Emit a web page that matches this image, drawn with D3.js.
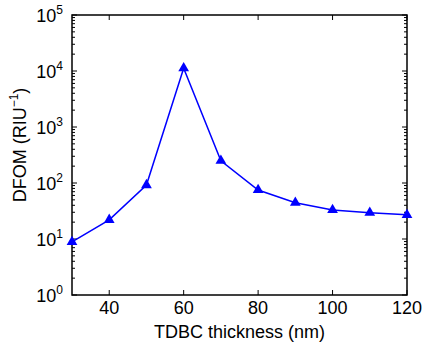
<!doctype html>
<html>
<head>
<meta charset="utf-8">
<script src="https://cdn.jsdelivr.net/npm/d3@7"></script>
<style>
  body { margin: 0; background: #fff; }
  text { font-family: "Liberation Sans", Arial, sans-serif; fill: #000; }
</style>
</head>
<body>
<script>
  var thickness = [30, 40, 50, 60, 70, 80, 90, 100, 110, 120];
  var dfom = [8.9, 22, 92, 11200, 250, 75, 44.5, 33, 29.5, 27];
  var xTicks = [40, 60, 80, 100, 120];
  var yExps = [0, 1, 2, 3, 4, 5];

  var width = 422, height = 350;
  var pLeft = 72, pRight = 407, pTop = 15, pBottom = 295;

  var svg = d3.select('body').append('svg')
      .attr('width', width)
      .attr('height', height);

  var x = d3.scaleLinear().domain([30, 120]).range([pLeft, pRight]);
  var y = d3.scaleLog().domain([1, 1e5]).range([pBottom, pTop]);

  // minor log ticks
  var minor = [];
  for (var e = 0; e < 5; e++) {
    for (var m = 2; m < 10; m++) minor.push(m * Math.pow(10, e));
  }

  var ticks = svg.append('g').attr('stroke', '#000').attr('stroke-width', 1);
  minor.forEach(function (v) {
    ticks.append('line').attr('x1', pLeft).attr('x2', pLeft + 3).attr('y1', y(v)).attr('y2', y(v));
    ticks.append('line').attr('x1', pRight).attr('x2', pRight - 3).attr('y1', y(v)).attr('y2', y(v));
  });
  yExps.forEach(function (p) {
    var v = Math.pow(10, p);
    ticks.append('line').attr('x1', pLeft).attr('x2', pLeft + 5).attr('y1', y(v)).attr('y2', y(v));
    ticks.append('line').attr('x1', pRight).attr('x2', pRight - 5).attr('y1', y(v)).attr('y2', y(v));
  });
  xTicks.forEach(function (t) {
    ticks.append('line').attr('x1', x(t)).attr('x2', x(t)).attr('y1', pBottom).attr('y2', pBottom - 5);
    ticks.append('line').attr('x1', x(t)).attr('x2', x(t)).attr('y1', pTop).attr('y2', pTop + 5);
  });

  svg.append('rect')
      .attr('x', pLeft).attr('y', pTop)
      .attr('width', pRight - pLeft).attr('height', pBottom - pTop)
      .attr('fill', 'none').attr('stroke', '#000').attr('stroke-width', 1.5);

  // tick labels
  svg.append('g').selectAll('text').data(xTicks).enter().append('text')
      .attr('x', function (d) { return x(d); })
      .attr('y', 314)
      .attr('text-anchor', 'middle')
      .attr('font-size', 18)
      .text(function (d) { return d; });

  var yl = svg.append('g').selectAll('text').data(yExps).enter().append('text')
      .attr('x', 63)
      .attr('y', function (d) { return y(Math.pow(10, d)) + 7; })
      .attr('text-anchor', 'end')
      .attr('font-size', 18);
  yl.append('tspan').text('10');
  yl.append('tspan').attr('font-size', 12).attr('dy', -8).text(function (d) { return d; });

  svg.append('text')
      .attr('x', (pLeft + pRight) / 2).attr('y', 338)
      .attr('text-anchor', 'middle').attr('font-size', 18)
      .text('TDBC thickness (nm)');

  var ylab = svg.append('text')
      .attr('transform', 'translate(26,145) rotate(-90)')
      .attr('text-anchor', 'middle').attr('font-size', 18);
  ylab.append('tspan').text('DFOM (RIU');
  ylab.append('tspan').attr('font-size', 12).attr('dy', -8).text('\u22121');
  ylab.append('tspan').attr('dy', 8).text(')');

  var pts = thickness.map(function (t, i) { return [t, dfom[i]]; });

  svg.append('path')
      .datum(pts)
      .attr('fill', 'none').attr('stroke', '#0000ff').attr('stroke-width', 1.5)
      .attr('d', d3.line().x(function (d) { return x(d[0]); }).y(function (d) { return y(d[1]); }));

  svg.append('g').selectAll('path').data(pts).enter().append('path')
      .attr('transform', function (d) { return 'translate(' + x(d[0]) + ',' + y(d[1]) + ')'; })
      .attr('d', d3.symbol().type(d3.symbolTriangle).size(50))
      .attr('fill', '#0000ff');
</script>
</body>
</html>
